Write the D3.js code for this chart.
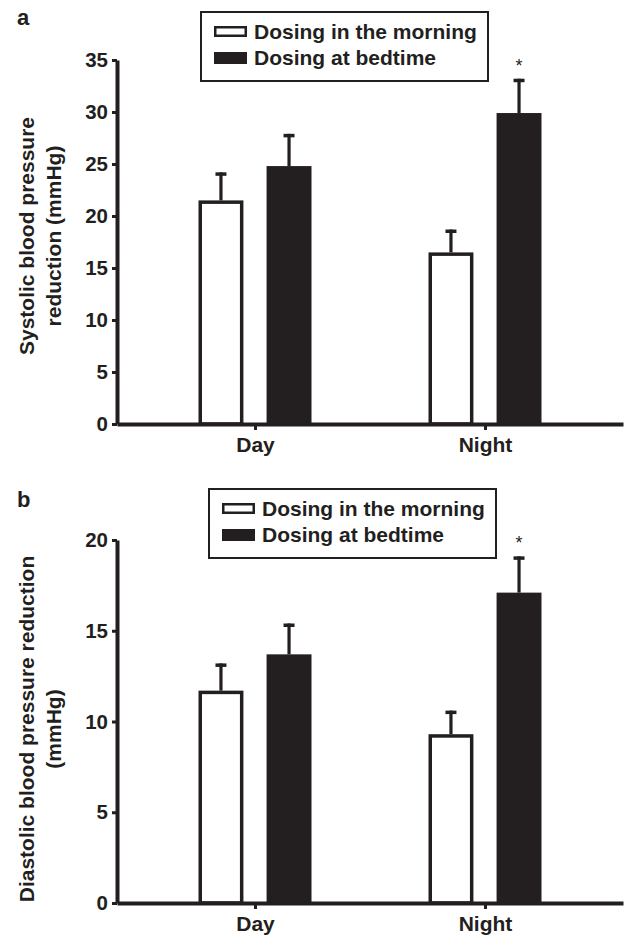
<!DOCTYPE html>
<html>
<head>
<meta charset="utf-8">
<script src="https://cdn.jsdelivr.net/npm/d3@7"></script>
<style>
  body { margin: 0; background: #fff; }
  text { font-family: 'Liberation Sans', Arial, sans-serif; font-weight: bold; fill: #231f20; }
</style>
</head>
<body>
<svg id="chart" width="629" height="941"></svg>
<script>
const groups = ['Day', 'Night'];
const series = ['Dosing in the morning', 'Dosing at bedtime'];

// panel a: systolic reduction (mmHg), mean and error
const sysMorning = [21.5, 16.5];
const sysMorningErr = [2.7, 2.2];
const sysBedtime = [24.8, 29.9];
const sysBedtimeErr = [3.1, 3.3];
const sysTicks = [0, 5, 10, 15, 20, 25, 30, 35];

// panel b: diastolic reduction (mmHg)
const diaMorning = [11.7, 9.3];
const diaMorningErr = [1.5, 1.3];
const diaBedtime = [13.7, 17.1];
const diaBedtimeErr = [1.7, 2.0];
const diaTicks = [0, 5, 10, 15, 20];

// significance mark over the bedtime bar, per group
const sigMarks = ['', '*'];

const ink = '#231f20';
const svg = d3.select('#chart');

function drawPanel(opt) {
  const g = svg.append('g');
  const y = d3.scaleLinear().domain([0, d3.max(opt.ticks)]).range([opt.bottom, opt.top]);
  const x = d3.scalePoint().domain(groups).range([117, 623]).padding(0.6);
  const inner = d3.scaleBand().domain(series).range([-56.5, 56.5]).paddingInner(0.34);
  const bw = inner.bandwidth();

  const rows = [];
  groups.forEach((grp, i) => {
    series.forEach((s, j) => {
      rows.push({ grp, s, j, i, v: opt.values[j][i], e: opt.errors[j][i] });
    });
  });
  const cx = d => x(d.grp) + inner(d.s) + bw / 2;

  // error bars (drawn first, bar covers the stem base)
  g.selectAll('.stem')
    .data(rows)
    .enter()
    .append('line')
    .attr('x1', cx)
    .attr('x2', cx)
    .attr('y1', d => y(d.v))
    .attr('y2', d => y(d.v + d.e))
    .attr('stroke', ink)
    .attr('stroke-width', 3.2);
  g.selectAll('.cap')
    .data(rows)
    .enter()
    .append('line')
    .attr('x1', d => cx(d) - 5.5)
    .attr('x2', d => cx(d) + 5.5)
    .attr('y1', d => y(d.v + d.e) + 1.75)
    .attr('y2', d => y(d.v + d.e) + 1.75)
    .attr('stroke', ink)
    .attr('stroke-width', 3.5);

  // bars
  g.selectAll('.bar')
    .data(rows)
    .enter()
    .append('rect')
    .attr('x', d => x(d.grp) + inner(d.s) + 1.75)
    .attr('width', bw - 3.5)
    .attr('y', d => y(d.v) + 1.75)
    .attr('height', d => y(0) - y(d.v) - 1.75)
    .attr('fill', d => (d.j === 0 ? '#fff' : ink))
    .attr('stroke', ink)
    .attr('stroke-width', 3.5);

  // significance
  g.selectAll('.sig')
    .data(rows.filter(d => d.j === 1 && sigMarks[d.i]))
    .enter()
    .append('text')
    .attr('x', cx)
    .attr('y', d => y(d.v + d.e) - 7)
    .attr('text-anchor', 'middle')
    .style('font-weight', 'normal')
    .style('font-size', '18px')
    .text(d => sigMarks[d.i]);

  // y axis
  const yAxis = g.append('g')
    .attr('transform', 'translate(117,0)')
    .call(d3.axisLeft(y).tickValues(opt.ticks).tickSize(5).tickSizeOuter(0).tickPadding(4));
  yAxis.select('.domain').attr('stroke', ink).attr('stroke-width', 4);
  yAxis.selectAll('.tick line').attr('stroke', ink).attr('stroke-width', 3);
  yAxis.selectAll('.tick text').style('font-size', '20.5px').attr('fill', ink);

  // x axis
  const xAxis = g.append('g')
    .attr('transform', `translate(0,${y(0)})`)
    .call(d3.axisBottom(x).tickSize(6).tickSizeOuter(0).tickPadding(7));
  xAxis.select('.domain').attr('stroke', ink).attr('stroke-width', 4);
  xAxis.selectAll('.tick line').attr('stroke', ink).attr('stroke-width', 3);
  xAxis.selectAll('.tick text').style('font-size', '21px').attr('fill', ink);

  // y title
  opt.title.forEach((line, k) => {
    g.append('text')
      .attr('transform', `translate(${[34, 61][k]},${opt.titleY}) rotate(-90)`)
      .attr('text-anchor', 'middle')
      .style('font-size', '21px')
      .text(line);
  });

  // panel letter
  g.append('text')
    .attr('x', 17)
    .attr('y', opt.labelY)
    .style('font-size', '22px')
    .text(opt.label);

  // legend
  const leg = g.append('g').attr('transform', `translate(${opt.legend[0]},${opt.legend[1]})`);
  leg.append('rect')
    .attr('width', 287)
    .attr('height', 69)
    .attr('fill', '#fff')
    .attr('stroke', ink)
    .attr('stroke-width', 2);
  const item = leg.selectAll('.item')
    .data(series)
    .enter()
    .append('g')
    .attr('transform', (_, j) => `translate(0,${j * 26})`);
  item.append('rect')
    .attr('x', (_, j) => (j === 0 ? 14.25 : 13))
    .attr('y', (_, j) => (j === 0 ? 15.25 : 14))
    .attr('width', (_, j) => (j === 0 ? 30.5 : 33))
    .attr('height', (_, j) => (j === 0 ? 8.5 : 12))
    .attr('fill', (_, j) => (j === 0 ? '#fff' : ink))
    .attr('stroke', ink)
    .attr('stroke-width', (_, j) => (j === 0 ? 2.5 : 0));
  item.append('text')
    .attr('x', 53)
    .attr('y', 27)
    .style('font-size', '21px')
    .text(d => d);
}

drawPanel({
  values: [sysMorning, sysBedtime],
  errors: [sysMorningErr, sysBedtimeErr],
  ticks: sysTicks,
  top: 60,
  bottom: 424,
  title: ['Systolic blood pressure', 'reduction (mmHg)'],
  titleY: 236,
  label: 'a',
  labelY: 25,
  legend: [201, 12],
});

drawPanel({
  values: [diaMorning, diaBedtime],
  errors: [diaMorningErr, diaBedtimeErr],
  ticks: diaTicks,
  top: 540,
  bottom: 903,
  title: ['Diastolic blood pressure reduction', '(mmHg)'],
  titleY: 729,
  label: 'b',
  labelY: 507,
  legend: [209, 489],
});
</script>
</body>
</html>
